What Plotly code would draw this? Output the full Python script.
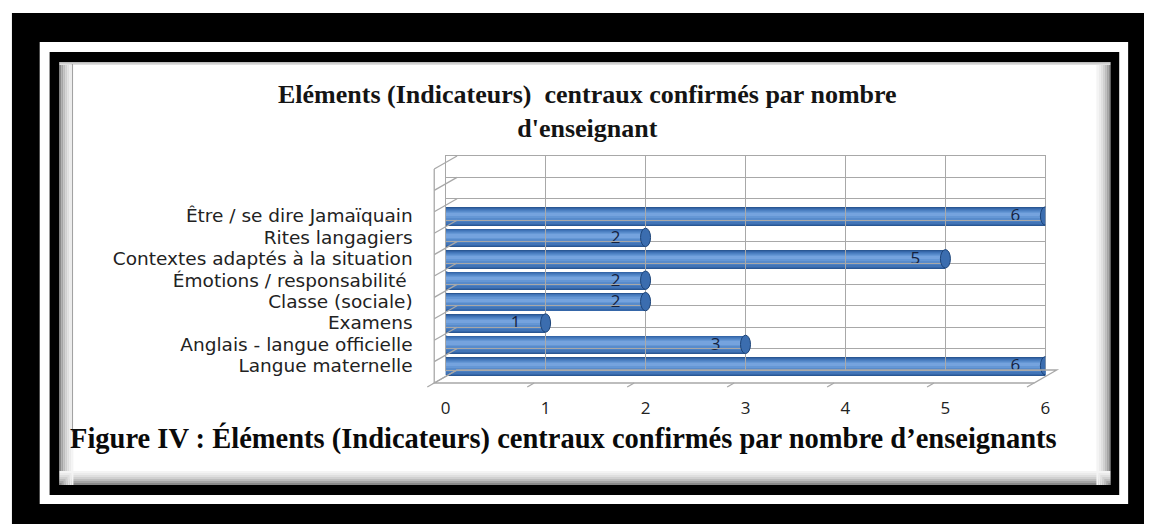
import plotly.graph_objects as go

# data (bottom to top, as drawn)
categories = [
    "Langue maternelle",
    "Anglais - langue officielle",
    "Examens",
    "Classe (sociale)",
    "Émotions / responsabilité ",
    "Contextes adaptés à la situation",
    "Rites langagiers",
    "Être / se dire Jamaïquain",
]
teachers = [6, 3, 1, 2, 2, 5, 2, 6]
x_ticks = [0, 1, 2, 3, 4, 5, 6]

title = "Eléments (Indicateurs)  centraux confirmés par nombre<br>d'enseignant"
caption = "Figure IV : Éléments (Indicateurs) centraux confirmés par nombre d’enseignants"

W, H = 1149, 524
N_SLOTS = 10  # two empty slots above the bars, as in the original 3D chart


def px(x):
    return x / W


def py(y):
    return 1 - y / H


# 3D box geometry (pixels): front plane and depth shift towards the back wall
FRONT_L, FRONT_R, FRONT_T, FRONT_B = 433, 1038, 169, 383
DX, DY = 23, -13
GRID = "#a8a8a8"

pos = list(range(len(categories)))
fig = go.Figure()

# cylinder shading, built as overlaid bars of decreasing thickness
layers = [
    (0.86, -0.43, "#2a5793"),
    (0.80, -0.40, "#3566a8"),
    (0.70, -0.34, "#4174b7"),
    (0.56, -0.25, "#4c80c2"),
    (0.42, -0.15, "#588bcb"),
    (0.28, -0.06, "#6597d5"),
    (0.15, 0.01, "#75a3de"),
]
for width, offset, color in layers:
    fig.add_trace(
        go.Bar(
            x=teachers,
            y=pos,
            orientation="h",
            width=width,
            offset=offset,
            marker={"color": color, "line": {"width": 0}},
            hoverinfo="skip",
            showlegend=False,
        )
    )

fig.add_trace(
    go.Scatter(
        x=[v - 0.3 for v in teachers],
        y=[p - 0.05 for p in pos],
        mode="text",
        text=[str(v) for v in teachers],
        textposition="middle center",
        textfont={"family": "Open Sans", "size": 17, "color": "#14223f"},
        hovertemplate="%{customdata}: %{text}<extra></extra>",
        customdata=categories,
        showlegend=False,
    )
)

shapes = []

# end caps of the cylinders
for v, p in zip(teachers, pos):
    shapes.append(dict(
        type="circle", xref="x", yref="y", layer="below",
        x0=-0.05, x1=0.05, y0=p - 0.43, y1=p + 0.43,
        fillcolor="#2f5e9e", line={"width": 0},
    ))
    shapes.append(dict(
        type="circle", xref="x", yref="y", layer="above",
        x0=v - 0.05, x1=v + 0.05, y0=p - 0.43, y1=p + 0.43,
        fillcolor="#3b6daf", line={"width": 1, "color": "#1d4478"},
    ))

# page frame: black / white / black borders around the white card
frame = [
    (7, 13, W, H, "black"),
    (35, 42, 1133, 504, "white"),
    (45, 52, 1124, 495, "black"),
    (55, 62, 1115, 485, "white"),
]
for x0, y0, x1, y1, c in frame:
    shapes.append(dict(
        type="rect", xref="paper", yref="paper", layer="below",
        x0=px(x0), x1=px(x1), y0=py(y1), y1=py(y0),
        fillcolor=c, line={"width": 0},
    ))

# soft inner shadow on the white card
shade = ["#8a8a8a", "#a5a5a5", "#bdbdbd", "#d0d0d0", "#dfdfdf", "#ebebeb", "#f4f4f4"]
for k, c in enumerate(shade):
    shapes.append(dict(type="line", xref="paper", yref="paper", layer="below",
                       x0=px(55 + 2 * k + 1), x1=px(55 + 2 * k + 1), y0=py(485), y1=py(62),
                       line={"color": c, "width": 2}))
    shapes.append(dict(type="line", xref="paper", yref="paper", layer="below",
                       x0=px(1115 - 2 * k - 1), x1=px(1115 - 2 * k - 1), y0=py(485), y1=py(62),
                       line={"color": c, "width": 2}))
    shapes.append(dict(type="line", xref="paper", yref="paper", layer="below",
                       x0=px(55), x1=px(1115), y0=py(485 - 2 * k - 1), y1=py(485 - 2 * k - 1),
                       line={"color": c, "width": 2}))
for k, c in enumerate(shade[2:5]):
    shapes.append(dict(type="line", xref="paper", yref="paper", layer="below",
                       x0=px(55), x1=px(1115), y0=py(62 + k + 0.5), y1=py(62 + k + 0.5),
                       line={"color": c, "width": 1}))
# chart object border line
shapes.append(dict(type="line", xref="paper", yref="paper", layer="below",
                   x0=px(68), x1=px(68), y0=py(432), y1=py(64),
                   line={"color": "#9a9a9a", "width": 1}))

# left side wall and floor of the 3D box
slot = (FRONT_B - FRONT_T) / N_SLOTS
for k in range(N_SLOTS + 1):
    yf = FRONT_T + k * slot
    shapes.append(dict(type="line", xref="paper", yref="paper",
                       x0=px(FRONT_L), x1=px(FRONT_L + DX), y0=py(yf), y1=py(yf + DY),
                       line={"color": GRID, "width": 1.3}))
shapes.append(dict(type="line", xref="paper", yref="paper",
                   x0=px(FRONT_L), x1=px(FRONT_L), y0=py(FRONT_B), y1=py(FRONT_T),
                   line={"color": GRID, "width": 1.3}))
shapes.append(dict(type="path", xref="paper", yref="paper",
                   path=(f"M {px(FRONT_L)} {py(FRONT_B)} L {px(FRONT_R)} {py(FRONT_B)} "
                         f"L {px(FRONT_R + DX)} {py(FRONT_B + DY)} "
                         f"L {px(FRONT_L + DX)} {py(FRONT_B + DY)} Z"),
                   fillcolor="rgba(255,255,255,0)", line={"color": GRID, "width": 1.3}))
step = (FRONT_R - FRONT_L) / (len(x_ticks) - 1)
for k in range(len(x_ticks)):
    xf = FRONT_L + k * step
    shapes.append(dict(type="line", xref="paper", yref="paper",
                       x0=px(xf), x1=px(xf - 7), y0=py(FRONT_B), y1=py(FRONT_B + 4),
                       line={"color": GRID, "width": 1.3}))

annotations = [
    dict(
        text=f"<b>{title}</b>", xref="paper", yref="paper",
        x=px(588), y=py(78), showarrow=False, align="center",
        font={"family": "Liberation Serif", "size": 26, "color": "#141414"},
    ),
    dict(
        text=f"<b>{caption}</b>", xref="paper", yref="paper",
        x=px(64), y=py(457), xanchor="left", showarrow=False,
        font={"family": "Liberation Serif", "size": 28.5, "color": "#0a0a0a"},
    ),
]

fig.update_layout(
    width=W,
    height=H,
    margin={"l": 0, "r": 0, "t": 0, "b": 0},
    paper_bgcolor="white",
    plot_bgcolor="rgba(0,0,0,0)",
    barmode="overlay",
    bargap=0,
    shapes=shapes,
    annotations=annotations,
    font={"family": "Open Sans", "color": "#222"},
    # middle plane: the bars
    xaxis=dict(
        domain=[px(FRONT_L + DX / 2), px(FRONT_R + DX / 2)],
        range=[0, 6], visible=False, fixedrange=True,
    ),
    yaxis=dict(
        domain=[py(FRONT_B + DY / 2), py(FRONT_T + DY / 2)],
        range=[-0.5, N_SLOTS - 0.5],
        tickvals=pos, ticktext=categories,
        tickfont={"size": 18.5, "color": "#222", "family": "DejaVu Sans"},
        showgrid=False, zeroline=False, showline=False, ticks="",
        ticklabelstandoff=int(DX / 2 + FRONT_L - 412), fixedrange=True,
    ),
    # back wall with its grid
    xaxis2=dict(
        domain=[px(FRONT_L + DX), px(FRONT_R + DX)],
        anchor="y2", overlaying="x", range=[0, 6], dtick=1,
        showgrid=True, gridcolor=GRID, gridwidth=1.3, showticklabels=False,
        zeroline=False, showline=True, mirror=True, linecolor=GRID, linewidth=1.3,
        layer="below traces", fixedrange=True,
    ),
    yaxis2=dict(
        domain=[py(FRONT_B + DY), py(FRONT_T + DY)],
        anchor="x2", range=[-0.5, N_SLOTS - 0.5], tick0=-0.5, dtick=1,
        showgrid=True, gridcolor=GRID, gridwidth=1.3, showticklabels=False,
        zeroline=False, showline=True, mirror=True, linecolor=GRID, linewidth=1.3,
        layer="below traces", fixedrange=True,
    ),
    # front plane: value axis labels
    xaxis3=dict(
        domain=[px(FRONT_L), px(FRONT_R)],
        anchor="y3", overlaying="x", range=[0, 6], tickvals=x_ticks,
        tickfont={"size": 17, "color": "#222", "family": "Open Sans"},
        showgrid=False, zeroline=False, showline=False, ticks="",
        ticklabelstandoff=13, fixedrange=True,
    ),
    yaxis3=dict(
        domain=[py(FRONT_B), py(FRONT_T)],
        anchor="x3", range=[0, 1], visible=False, fixedrange=True,
    ),
)

# invisible traces so the back wall and front axis render
fig.add_trace(go.Scatter(x=[0], y=[0], xaxis="x2", yaxis="y2", mode="markers",
                         marker={"opacity": 0}, hoverinfo="skip", showlegend=False))
fig.add_trace(go.Scatter(x=[0], y=[0], xaxis="x3", yaxis="y3", mode="markers",
                         marker={"opacity": 0}, hoverinfo="skip", showlegend=False))

fig.write_html(
    "out.html",
    config={"displayModeBar": False},
    post_script="document.body.style.margin='0';document.body.style.overflow='hidden';",
)
